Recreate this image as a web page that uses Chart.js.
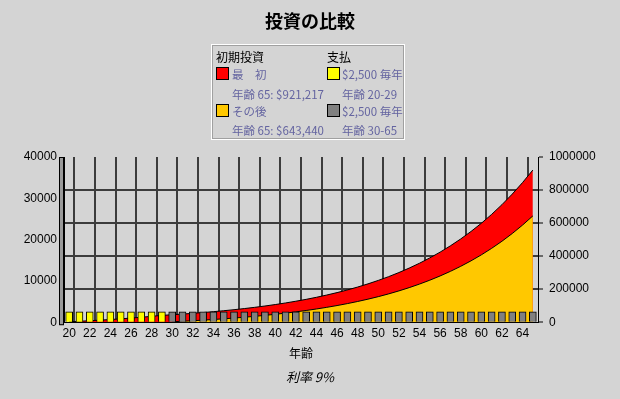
<!DOCTYPE html>
<html>
<head>
<meta charset="utf-8">
<script src="https://cdn.jsdelivr.net/npm/chart.js@4/dist/chart.umd.min.js"></script>
<style>
  html, body { margin: 0; padding: 0; background: #d4d4d4; }
  #wrap { position: relative; width: 620px; height: 399px; font-family: "Noto Sans CJK JP", sans-serif; }
  #chart { position: absolute; left: 0; top: 0; }
  .txt { position: absolute; white-space: nowrap; font-size: 12px; line-height: 14px; }
  .lg { color: #6464a0; font-size: 11.5px; }
  .sw { position: absolute; width: 11px; height: 11px; border: 1px solid #000; }
  #legend { position: absolute; left: 211px; top: 44px; width: 192px; height: 94px;
            border: 1px solid #fff; box-shadow: inset 0 0 0 1px #a0a0a0; }
</style>
</head>
<body>
<div id="wrap">
  <canvas id="chart" width="620" height="399"></canvas>
  <div class="txt" style="left:0;width:620px;top:9px;text-align:center;font-size:18px;line-height:22px;font-weight:bold;color:#000">投資の比較</div>
  <div id="legend"></div>
  <div class="txt" style="left:216px;top:50px;color:#000">初期投資</div>
  <div class="txt" style="left:327px;top:50px;color:#000">支払</div>
  <div class="sw" style="left:216px;top:67px;background:#ff0000"></div>
  <div class="txt lg" style="left:232px;top:67px">最　初</div>
  <div class="txt lg" style="left:232px;top:87px">年齢 65: $921,217</div>
  <div class="sw" style="left:216px;top:104px;background:#ffc800"></div>
  <div class="txt lg" style="left:232px;top:104px">その後</div>
  <div class="txt lg" style="left:232px;top:123px">年齢 65: $643,440</div>
  <div class="sw" style="left:327px;top:67px;background:#ffff00"></div>
  <div class="txt lg" style="left:342px;top:67px">$2,500 毎年</div>
  <div class="txt lg" style="left:342px;top:87px">年齢 20-29</div>
  <div class="sw" style="left:327px;top:104px;background:#808080"></div>
  <div class="txt lg" style="left:342px;top:104px">$2,500 毎年</div>
  <div class="txt lg" style="left:342px;top:123px">年齢 30-65</div>
  <div class="txt" style="left:0;width:620px;top:369px;text-align:center;font-size:13px;line-height:16px;font-style:italic;color:#000">利率 9%</div>
</div>
<script>
const ages = ['20', '21', '22', '23', '24', '25', '26', '27', '28', '29',
  '30', '31', '32', '33', '34', '35', '36', '37', '38', '39',
  '40', '41', '42', '43', '44', '45', '46', '47', '48', '49',
  '50', '51', '52', '53', '54', '55', '56', '57', '58', '59',
  '60', '61', '62', '63', '64', '65'];

// balance when paying only at ages 20-29
const earlyBalance = [2725, 5695, 8933, 12462, 16308, 20501, 25071, 30053, 35482, 41401,
  45127, 49188, 53615, 58441, 63700, 69433, 75682, 82494, 89918, 98011,
  106832, 116446, 126927, 138350, 150801, 164374, 179167, 195292, 212869, 232027,
  252909, 275671, 300481, 327525, 357002, 389132, 424154, 462328, 503937, 549292,
  598728, 652613, 711349, 775370, 845153, 921217];

// balance when paying at ages 30-65
const laterBalance = [null, null, null, null, null, null, null, null, null, null,
  2725, 5695, 8933, 12462, 16308, 20501, 25071, 30053, 35482, 41401,
  47852, 54883, 62548, 70902, 80009, 89934, 100753, 112546, 125400, 139411,
  154683, 171330, 189475, 209252, 230810, 254308, 279921, 307838, 338269, 371438,
  407593, 447000, 489955, 536776, 587811, 643440];

const earlyPayment = [2500, 2500, 2500, 2500, 2500, 2500, 2500, 2500, 2500, 2500,
  null, null, null, null, null, null, null, null, null, null,
  null, null, null, null, null, null, null, null, null, null,
  null, null, null, null, null, null, null, null, null, null,
  null, null, null, null, null, null];

const laterPayment = [null, null, null, null, null, null, null, null, null, null,
  2500, 2500, 2500, 2500, 2500, 2500, 2500, 2500, 2500, 2500,
  2500, 2500, 2500, 2500, 2500, 2500, 2500, 2500, 2500, 2500,
  2500, 2500, 2500, 2500, 2500, 2500, 2500, 2500, 2500, 2500,
  2500, 2500, 2500, 2500, 2500, 2500];

const GRID = '#3c3c3c';

// grey wall on the left side of the plot
const wallPlugin = {
  id: 'wall',
  beforeDatasetsDraw(chart) {
    const { ctx, chartArea } = chart;
    ctx.save();
    ctx.fillStyle = '#9a9a9a';
    ctx.strokeStyle = '#000';
    ctx.lineWidth = 1;
    ctx.fillRect(chartArea.left - 4, chartArea.top, 4, chartArea.bottom - chartArea.top + 3);
    ctx.strokeRect(chartArea.left - 4.5, chartArea.top + 0.5, 4, chartArea.bottom - chartArea.top + 2);
    ctx.restore();
  }
};

new Chart(document.getElementById('chart'), {
  data: {
    labels: ages,
    datasets: [
      {
        type: 'bar', label: '$2,500 毎年 年齢 20-29', data: earlyPayment, yAxisID: 'y',
        backgroundColor: '#ffff00', borderColor: '#000', borderWidth: 1,
        barThickness: 7, grouped: false, order: 0
      },
      {
        type: 'bar', label: '$2,500 毎年 年齢 30-65', data: laterPayment, yAxisID: 'y',
        backgroundColor: '#808080', borderColor: '#000', borderWidth: 1,
        barThickness: 7, grouped: false, order: 0
      },
      {
        type: 'line', label: 'その後', data: laterBalance, yAxisID: 'y1',
        backgroundColor: '#ffc800', borderColor: '#000', borderWidth: 1,
        fill: 'origin', pointRadius: 0, tension: 0, order: 1
      },
      {
        type: 'line', label: '最初', data: earlyBalance, yAxisID: 'y1',
        backgroundColor: '#ff0000', borderColor: '#000', borderWidth: 1,
        fill: 'origin', pointRadius: 0, tension: 0, order: 2
      }
    ]
  },
  options: {
    responsive: false,
    animation: false,
    layout: { padding: { left: 18, right: 22, top: 157, bottom: 38 } },
    plugins: {
      legend: { display: false },
      tooltip: { enabled: false }
    },
    scales: {
      x: {
        offset: true,
        ticks: {
          autoSkip: false, maxRotation: 0, padding: 4,
          color: '#000', font: { family: 'Liberation Sans', size: 12 },
          callback: (v, i) => (i % 2 === 0 ? ages[i] : '')
        },
        grid: {
          offset: true,
          color: (c) => (c.index % 2 === 1 ? GRID : 'rgba(0,0,0,0)'),
          lineWidth: 2,
          drawTicks: false
        },
        border: { color: '#000', width: 1 },
        title: {
          display: true, text: '年齢', color: '#000',
          font: { family: 'Noto Sans CJK JP', size: 12 }, padding: { top: 2, bottom: 0 }
        }
      },
      y: {
        position: 'left',
        min: 0, max: 40000,
        ticks: {
          stepSize: 5000, color: '#000', padding: 3,
          font: { family: 'Liberation Sans', size: 12 },
          callback: (v) => (v % 10000 === 0 ? v : '')
        },
        grid: { drawOnChartArea: false, color: '#000', tickLength: 4 },
        border: { color: '#000', width: 1 },
        afterFit: (s) => { s.width = 46; }
      },
      y1: {
        position: 'right',
        min: 0, max: 1000000,
        ticks: {
          stepSize: 100000, color: '#000', padding: 6,
          font: { family: 'Liberation Sans', size: 12 },
          callback: (v) => (v % 200000 === 0 ? v : '')
        },
        grid: {
          color: (c) => (c.tick && c.tick.value % 200000 === 0 && c.tick.value > 0 && c.tick.value < 1000000 ? GRID : 'rgba(0,0,0,0)'),
          lineWidth: 2,
          tickColor: '#000', tickLength: 5, tickWidth: 1
        },
        border: { color: '#000', width: 1 },
        afterFit: (s) => { s.width = 60; }
      }
    }
  },
  plugins: [wallPlugin]
});
</script>
</body>
</html>
